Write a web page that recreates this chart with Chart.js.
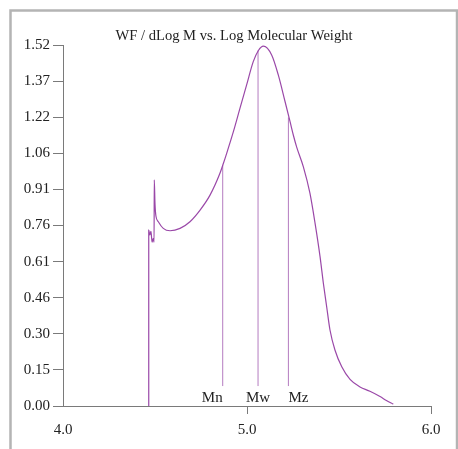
<!DOCTYPE html>
<html>
<head>
<meta charset="utf-8">
<script src="https://cdn.jsdelivr.net/npm/chart.js@4/dist/chart.umd.min.js"></script>
<style>
  html, body { margin: 0; padding: 0; background: #fff; overflow: hidden; }
  #wrap { position: relative; width: 458px; height: 449px; }
</style>
</head>
<body>
<div id="wrap"><canvas id="c" width="458" height="449"></canvas></div>
<script>
// Molecular weight distribution: WF / dLog M against Log M
const logM = [4.466, 4.466, 4.472, 4.478, 4.484, 4.490, 4.495, 4.496, 4.500, 4.505,
              4.518, 4.545, 4.582, 4.636, 4.690, 4.745, 4.799, 4.853, 4.871, 4.890,
              4.926, 4.962, 4.998, 5.034, 5.062, 5.089, 5.134, 5.170, 5.207, 5.234,
              5.252, 5.270, 5.306, 5.342, 5.370, 5.397, 5.415, 5.433, 5.451, 5.478,
              5.515, 5.560, 5.614, 5.668, 5.723, 5.760, 5.795];
const wf   = [0.000, 0.741, 0.720, 0.735, 0.690, 0.705, 0.690, 0.952, 0.850, 0.800,
              0.776, 0.748, 0.738, 0.748, 0.776, 0.825, 0.888, 0.980, 1.020, 1.065,
              1.155, 1.254, 1.352, 1.450, 1.497, 1.515, 1.478, 1.394, 1.281, 1.197,
              1.140, 1.090, 1.008, 0.896, 0.769, 0.629, 0.517, 0.418, 0.320, 0.236,
              0.165, 0.112, 0.080, 0.062, 0.040, 0.022, 0.008];

// Average molecular weight markers (Log M) and the curve height at each
const markerNames = ['Mn', 'Mw', 'Mz'];
const markerLogM  = [4.868, 5.060, 5.225];
const markerTop   = [1.013, 1.497, 1.215];
const markerBase  = 0.084;

// Axis ticks
const xTickValues = [4.0, 5.0, 6.0];
const yTickValues = [0, 0.152, 0.304, 0.456, 0.608, 0.76, 0.912, 1.064, 1.216, 1.368, 1.52];
const yTickLabels = ['0.00', '0.15', '0.30', '0.46', '0.61', '0.76', '0.91', '1.06', '1.22', '1.37', '1.52'];

const titleText = 'WF / dLog M vs. Log Molecular Weight';

const curveColor = '#9a48a8';
const markerColor = '#b47cc0';
const axisColor = '#7a7a7a';
const textColor = '#222';
const serif = '"Liberation Serif", "Times New Roman", serif';

const curveData = logM.map((x, i) => ({ x: x, y: wf[i] }));

const markerSets = markerNames.map((name, i) => ({
  label: name,
  data: [{ x: markerLogM[i], y: markerBase }, { x: markerLogM[i], y: markerTop[i] }],
  showLine: true,
  borderColor: markerColor,
  borderWidth: 1,
  pointRadius: 0,
  tension: 0
}));

const decor = {
  id: 'decor',
  beforeDraw(chart) {
    const ctx = chart.ctx;
    ctx.save();
    ctx.fillStyle = '#fff';
    ctx.fillRect(0, 0, chart.width, chart.height);
    ctx.strokeStyle = '#b4b4b4';
    ctx.lineWidth = 2.5;
    ctx.strokeRect(10.5, 10.5, 446.5, 470);
    ctx.restore();
  },
  afterDraw(chart) {
    const ctx = chart.ctx;
    const xs = chart.scales.x, ys = chart.scales.y;
    ctx.save();
    ctx.fillStyle = textColor;
    ctx.font = '14.6px ' + serif;
    ctx.textBaseline = 'alphabetic';
    ctx.textAlign = 'center';
    ctx.fillText(titleText, 234, 40);
    ctx.font = '15px ' + serif;
    const aligns = ['right', 'center', 'left'];
    const base = ys.getPixelForValue(0) - 4;
    markerNames.forEach((name, i) => {
      ctx.textAlign = aligns[i];
      const px = xs.getPixelForValue(markerLogM[i]);
      ctx.fillText(name, px, base);
    });
    ctx.restore();
  }
};

new Chart(document.getElementById('c'), {
  type: 'scatter',
  data: {
    datasets: [{
      label: 'WF / dLog M',
      data: curveData,
      showLine: true,
      borderColor: curveColor,
      borderWidth: 1.2,
      pointRadius: 0,
      cubicInterpolationMode: 'monotone'
    }, ...markerSets]
  },
  options: {
    responsive: false,
    animation: false,
    devicePixelRatio: 1,
    layout: { padding: { left: 0, top: 45, right: 27, bottom: 0 } },
    plugins: { legend: { display: false }, tooltip: { enabled: false }, title: { display: false } },
    scales: {
      x: {
        type: 'linear',
        min: 4, max: 6,
        afterBuildTicks(scale) { scale.ticks = xTickValues.map(v => ({ value: v })); },
        afterFit(scale) { scale.height = 43; },
        border: { display: true, color: axisColor, width: 1 },
        grid: {
          drawOnChartArea: false, drawTicks: true, tickLength: 8,
          color: ctx => (ctx.index === 0 ? 'rgba(0,0,0,0)' : axisColor)
        },
        ticks: {
          padding: 7,
          color: textColor,
          font: { family: serif, size: 15 },
          callback: v => Number(v).toFixed(1)
        }
      },
      y: {
        type: 'linear',
        min: 0, max: 1.52,
        afterBuildTicks(scale) { scale.ticks = yTickValues.map(v => ({ value: v })); },
        afterFit(scale) { scale.width = 63; },
        border: { display: true, color: axisColor, width: 1 },
        grid: { drawOnChartArea: false, drawTicks: true, tickLength: 10, color: axisColor },
        ticks: {
          padding: 3,
          color: textColor,
          font: { family: serif, size: 15 },
          callback: (v, i) => yTickLabels[i]
        }
      }
    }
  },
  plugins: [decor]
});
</script>
</body>
</html>
